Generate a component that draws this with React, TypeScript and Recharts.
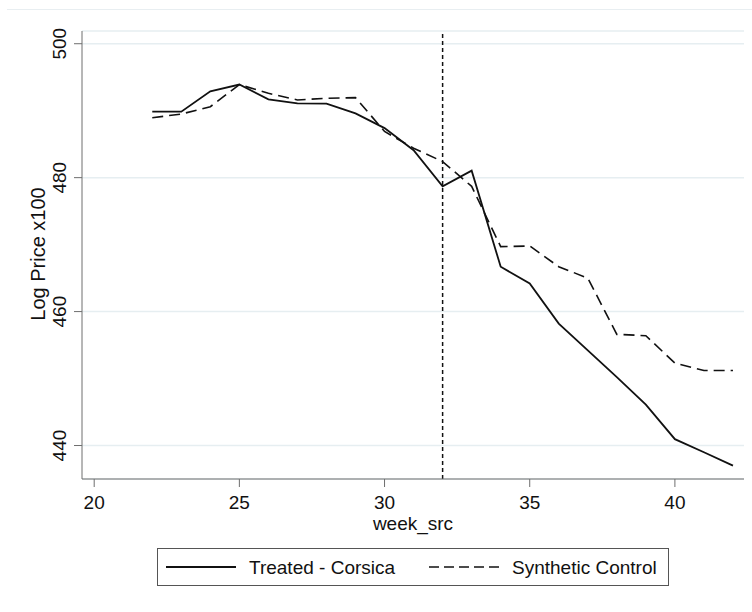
import React from "react";
import {
  CartesianGrid,
  Line,
  LineChart,
  ReferenceLine,
  XAxis,
  YAxis,
} from "recharts";

const weeks = [22, 23, 24, 25, 26, 27, 28, 29, 30, 31, 32, 33, 34, 35, 36, 37, 38, 39, 40, 41, 42];
const treated = [
  489.85, 489.85, 492.9, 493.9, 491.7, 491.1, 491.05, 489.6, 487.4, 484.1, 478.7,
  481.05, 466.7, 464.2, 458.2, 454.2, 450.2, 446.1, 440.95, 439.0, 437.0,
];
const synthetic = [
  488.95, 489.5, 490.6, 493.9, 492.6, 491.6, 491.85, 491.95, 486.9, 484.4, 482.4,
  478.7, 469.7, 469.8, 466.7, 465.0, 456.6, 456.4, 452.3, 451.2, 451.2,
];
const xTicks = [20, 25, 30, 35, 40];
const yTicks = [440, 460, 480, 500];
const treatmentWeek = 32;

const seriesNames = ["Treated - Corsica", "Synthetic Control"];

const data = weeks.map((w, i) => ({ week: w, treated: treated[i], synthetic: synthetic[i] }));

const font = "'Liberation Sans', Arial, sans-serif";

const YTick = (props: any) => {
  const { x, y, payload } = props;
  const px = x - 8;
  return (
    <text
      x={px}
      y={y}
      transform={`rotate(-90 ${px} ${y})`}
      textAnchor="middle"
      fontSize={19}
      fill="#111"
      fontFamily={font}
    >
      {payload.value}
    </text>
  );
};

export default function App() {
  return (
    <div style={{ position: "absolute", left: 0, top: 0, width: 752, height: 612, background: "#fff", fontFamily: font }}>
      <div style={{ position: "absolute", left: 7, top: 9, width: 745, height: 0, borderTop: "1px solid #e8eef1" }} />
      <LineChart
        width={752}
        height={612}
        data={data}
        margin={{ top: 31, right: 8, bottom: 93, left: 30 }}
      >
        <CartesianGrid vertical={false} stroke="#e6eef1" strokeWidth={1.5} />
        <XAxis
          dataKey="week"
          type="number"
          domain={[19.58, 42.38]}
          ticks={xTicks}
          allowDataOverflow
          height={40}
          tickSize={8}
          tickMargin={9}
          stroke="#6e6e6e"
          tick={{ fontSize: 19, fill: "#111", fontFamily: font }}
        />
        <YAxis
          type="number"
          domain={[435, 501.9]}
          ticks={yTicks}
          allowDataOverflow
          width={52}
          tickSize={8}
          tickMargin={0}
          stroke="#6e6e6e"
          tick={<YTick />}
        />
        <ReferenceLine x={treatmentWeek} stroke="#111" strokeWidth={1.5} strokeDasharray="4 3" />
        <Line
          dataKey="treated"
          type="linear"
          stroke="#111"
          strokeWidth={1.8}
          dot={false}
          isAnimationActive={false}
        />
        <Line
          dataKey="synthetic"
          type="linear"
          stroke="#111"
          strokeWidth={1.6}
          strokeDasharray="11 6"
          dot={false}
          isAnimationActive={false}
        />
      </LineChart>
      <svg style={{ position: "absolute", left: 0, top: 0 }} width={752} height={612}>
        <text
          x={45}
          y={254}
          transform="rotate(-90 45 254)"
          textAnchor="middle"
          fontSize={20}
          fill="#111"
          fontFamily={font}
        >
          Log Price x100
        </text>
        <text x={413} y={530} textAnchor="middle" fontSize={19} fill="#111" fontFamily={font}>
          week_src
        </text>
        <rect x={157.5} y={548.5} width={511} height={37} fill="#fff" stroke="#555" strokeWidth={1} />
        <line x1={166} x2={236} y1={567} y2={567} stroke="#111" strokeWidth={1.8} />
        <text x={249} y={574} fontSize={19} fill="#111" fontFamily={font}>
          {seriesNames[0]}
        </text>
        <line x1={429} x2={500} y1={567} y2={567} stroke="#111" strokeWidth={1.6} strokeDasharray="10 5" />
        <text x={512} y={574} fontSize={19} fill="#111" fontFamily={font}>
          {seriesNames[1]}
        </text>
      </svg>
    </div>
  );
}
